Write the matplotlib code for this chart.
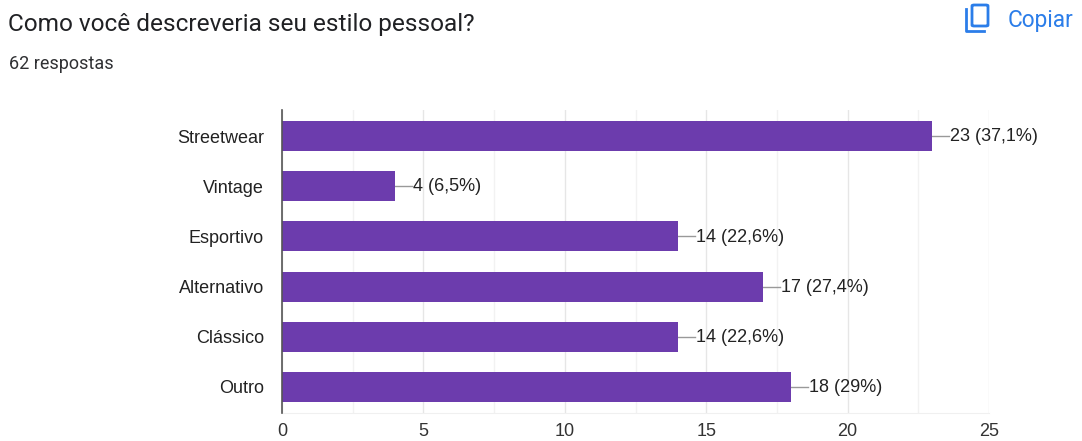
import matplotlib
matplotlib.use("Agg")
import matplotlib.pyplot as plt
from matplotlib.lines import Line2D
from matplotlib.patches import FancyBboxPatch

categories = ["Streetwear", "Vintage", "Esportivo", "Alternativo", "Clássico", "Outro"]
values = [23, 4, 14, 17, 14, 18]
value_labels = ["23 (37,1%)", "4 (6,5%)", "14 (22,6%)", "17 (27,4%)", "14 (22,6%)", "18 (29%)"]
xticks = [0, 5, 10, 15, 20, 25]
minor_xticks = [2.5, 7.5, 12.5, 17.5, 22.5]

W, H = 1082, 441
plt.rcParams['font.family'] = ['Liberation Sans', 'DejaVu Sans']
fig = plt.figure(figsize=(W/100, H/100), dpi=100, facecolor='white')
L, R, T, B = 282, 989, 110, 413
ax = fig.add_axes([L/W, 1-B/H, (R-L)/W, (B-T)/H])
ax.barh(range(len(values)), values, height=0.6, color='#6c3cad', zorder=3)
ax.set_xlim(0, 25)
ax.set_ylim(5.518, -0.518)
ax.set_yticks(range(len(categories)))
ax.set_yticklabels(categories, fontsize=13, color='#222222')
ax.set_xticks(xticks)
ax.set_xticklabels([str(x) for x in xticks], fontsize=13, color='#333333')
ax.set_xticks(minor_xticks, minor=True)
ax.grid(True, axis='x', which='major', color='#e6e6e6', lw=1, zorder=0)
ax.grid(True, axis='x', which='minor', color='#f2f2f2', lw=1, zorder=0)
ax.tick_params(axis='both', which='both', length=0)
ax.tick_params(axis='x', pad=7)
ax.tick_params(axis='y', pad=13)
for s in ['top', 'right']:
    ax.spines[s].set_visible(False)
ax.spines['bottom'].set_color('#f0f0f0')
ax.spines['left'].set_color('#555555')
ax.spines['left'].set_linewidth(1.2)
ax.spines['left'].set_zorder(5)
for i, (v, lab) in enumerate(zip(values, value_labels)):
    ax.plot([v, v + 0.6], [i, i], color='#999999', lw=1, zorder=2, clip_on=False)
    ax.text(v + 0.63, i + 0.015, lab, va='center', ha='left', fontsize=13, color='#222222', zorder=4)

fig.text(8/W, 1-24/H, "Como você descreveria seu estilo pessoal?", fontsize=17.6, va='center', ha='left', color='#202124', family=['Roboto', 'DejaVu Sans'])
fig.text(9/W, 1-64/H, "62 respostas", fontsize=13, va='center', ha='left', color='#303134', family=['Roboto', 'DejaVu Sans'])
fig.text(1008/W, 1-20/H, "Copiar", fontsize=16.3, va='center', ha='left', color='#2b7de9', family=['Roboto', 'DejaVu Sans'])

# copy icon: front sheet and the L of the sheet behind it
fig.add_artist(FancyBboxPatch((972/W, 1-26/H), 16/W, 21/H, boxstyle="round,pad=0,rounding_size=0.002",
                              transform=fig.transFigure, fill=False, ec='#2b7de9', lw=2))
fig.add_artist(Line2D([966/W, 966/W, 984/W], [1-9/H, 1-31/H, 1-31/H], transform=fig.transFigure,
                      color='#2b7de9', lw=2))

fig.savefig('out.png', dpi=100, facecolor='white')
